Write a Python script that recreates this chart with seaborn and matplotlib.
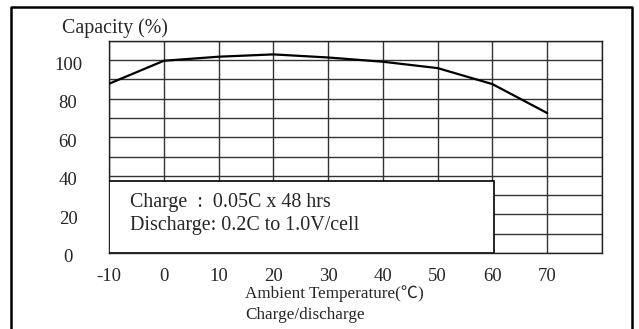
import matplotlib
matplotlib.use("Agg")
import matplotlib.pyplot as plt
import matplotlib.transforms as mtransforms
from matplotlib.lines import Line2D
from matplotlib.patches import Rectangle
import numpy as np
import pandas as pd
import seaborn as sns

# Data
temperature = [-10, 0, 10, 20, 30, 40, 50, 60, 70]
capacity = [87.7, 99.6, 101.7, 102.9, 101.3, 99.1, 95.8, 87.5, 72.5]
x_ticks = [-10, 0, 10, 20, 30, 40, 50, 60, 70]
y_ticks = [0, 20, 40, 60, 80, 100]
note_lines = ["Charge  :  0.05C x 48 hrs", "Discharge: 0.2C to 1.0V/cell"]

df = pd.DataFrame({"Temperature": temperature, "Capacity": capacity})

sns.set_style("white")
plt.rcParams["font.family"] = ["Liberation Serif", "Noto Sans CJK SC", "DejaVu Sans"]

W, H, DPI = 639, 329, 100
fig = plt.figure(figsize=(W / DPI, H / DPI), dpi=DPI)
ax = fig.add_axes([109 / W, 1 - 253 / H, (602 - 109) / W, (253 - 40.7) / H])

ax.set_xlim(-10, 80)
ax.set_ylim(0, 110)

# grid lines every 10 units both ways
for gx in np.arange(-10, 81, 10):
    ax.axvline(gx, color="#333333", linewidth=1.0, zorder=1)
for gy in np.arange(0, 111, 10):
    ax.axhline(gy, color="#333333", linewidth=1.0, zorder=1)

sns.lineplot(data=df, x="Temperature", y="Capacity", color="black",
             linewidth=1.6, ax=ax, zorder=3)

# white note box covering the lower-left grid
ax.add_patch(Rectangle((-10, 0), 70.3, 37.5, facecolor="white",
                       edgecolor="black", linewidth=1.2, zorder=4))
ax.text(-6.2, 26, note_lines[0], fontsize=14.4, va="center", ha="left", zorder=5)
ax.text(-6.2, 14, note_lines[1], fontsize=14.4, va="center", ha="left", zorder=5)

ax.set_xticks(x_ticks)
ax.set_xticklabels([str(t) for t in x_ticks], fontsize=13.5)
ax.set_yticks(y_ticks)
ax.set_yticklabels([str(t) for t in y_ticks], fontsize=13.5)
ax.tick_params(axis="both", which="both", length=0)
ax.tick_params(axis="x", pad=11)
ax.tick_params(axis="y", pad=29.5)
for lab in ax.get_yticklabels():
    lab.set_horizontalalignment("center")
    lab.set_transform(lab.get_transform() +
                      mtransforms.ScaledTranslation(0, -0.03, fig.dpi_scale_trans))
ax.set_xlabel("")
ax.set_ylabel("")
for side in ["left", "right", "top", "bottom"]:
    ax.spines[side].set_visible(True)
    ax.spines[side].set_color("#222222")
    ax.spines[side].set_linewidth(1.0)

# titles and axis captions
fig.text(62 / W, 1 - 28 / H, "Capacity (%)", fontsize=14.3, ha="left", va="center")
fig.text(245 / W, 1 - 294 / H, "Ambient Temperature(\u2103)", fontsize=12.3,
         ha="left", va="center")
fig.text(245 / W, 1 - 315 / H, "Charge/discharge", fontsize=12.3,
         ha="left", va="center")

# outer frame (open at the bottom)
frame_x = [11 / W, 11 / W, 632 / W, 632 / W]
frame_y = [0, 1 - 7 / H, 1 - 7 / H, 0]
fig.add_artist(Line2D(frame_x, frame_y, transform=fig.transFigure,
                      color="black", linewidth=1.8))

fig.savefig("out.png", dpi=DPI)
